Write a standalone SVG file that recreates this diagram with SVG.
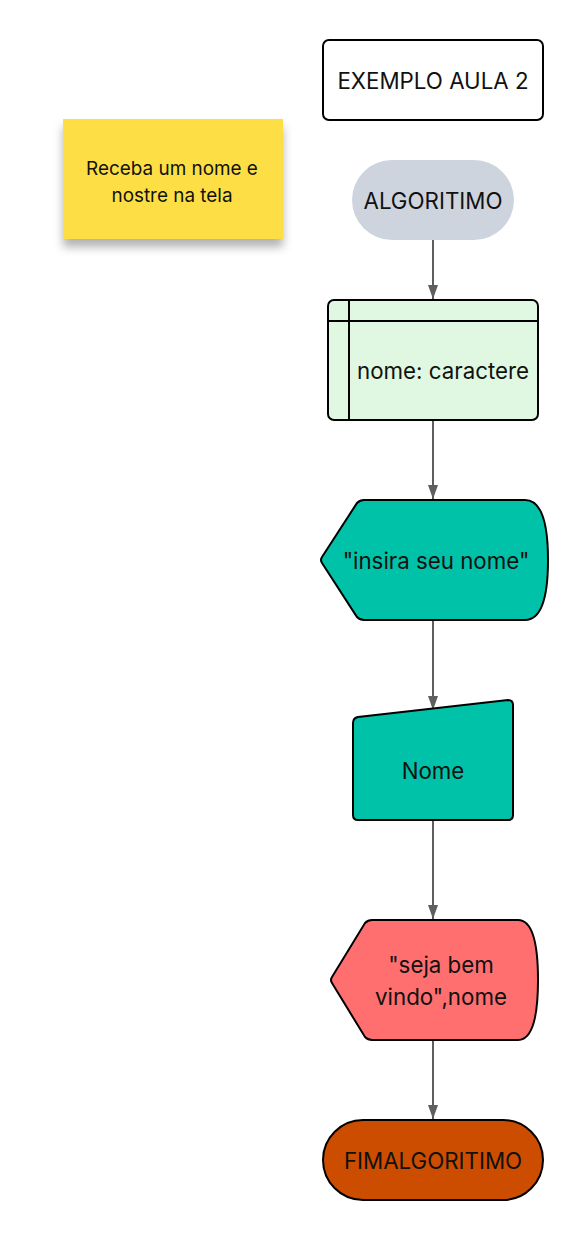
<svg xmlns="http://www.w3.org/2000/svg" width="588" height="1240" viewBox="0 0 588 1240">
<style>
text{font-family:Inter,"Noto Sans","Liberation Sans",sans-serif;fill:#111;text-anchor:middle;dominant-baseline:central}
.t{font-size:22.3px}
.s{font-size:18.9px}
.n{stroke:#000;stroke-width:2}
</style>
<defs>
<marker id="a2" markerWidth="14" markerHeight="10" refX="14" refY="5" orient="auto" markerUnits="userSpaceOnUse" viewBox="0 0 14 10">
<path d="M0,0 L14,5 L0,10 Z" fill="#5f5f5f"/>
</marker>
<filter id="sh" x="-20%" y="-20%" width="140%" height="160%">
<feDropShadow dx="0" dy="8" stdDeviation="5" flood-color="#000" flood-opacity="0.3"/>
</filter>
</defs>
<g id="connectors">
<line x1="433" y1="240" x2="433" y2="299" stroke="#5f5f5f" stroke-width="2" marker-end="url(#a2)"/>
<line x1="433" y1="420" x2="433" y2="499" stroke="#5f5f5f" stroke-width="2" marker-end="url(#a2)"/>
<line x1="433" y1="620" x2="433" y2="710" stroke="#5f5f5f" stroke-width="2" marker-end="url(#a2)"/>
<line x1="433" y1="820" x2="433" y2="919" stroke="#5f5f5f" stroke-width="2" marker-end="url(#a2)"/>
<line x1="433" y1="1040" x2="433" y2="1119" stroke="#5f5f5f" stroke-width="2" marker-end="url(#a2)"/>
</g>
<g id="note">
<rect x="63" y="119" width="220" height="120" fill="#FDDF44" filter="url(#sh)"/>
<text class="s" x="172" y="168">Receba um nome e</text>
<text class="s" x="172" y="195">nostre na tela</text>
</g>
<g id="title">
<rect class="n" x="323" y="40" width="220" height="80" rx="6" fill="#fff"/>
<text class="t" x="433" y="80">EXEMPLO AULA 2</text>
</g>
<g id="start">
<rect x="352" y="160" width="162" height="80" rx="40" fill="#CED4DE"/>
<text class="t" x="433" y="200">ALGORITIMO</text>
</g>
<g id="vars">
<rect class="n" x="328" y="300" width="210" height="120" rx="6" fill="#E0F8E2"/>
<line x1="349" y1="300" x2="349" y2="420" stroke="#000" stroke-width="2"/>
<line x1="328" y1="321" x2="538" y2="321" stroke="#000" stroke-width="2"/>
<text class="t" x="443" y="370">nome: caractere</text>
</g>
<g id="display1">
<path class="n" d="M364,500 L525,500 Q548,500 548,560 Q548,620 525,620 L364,620 Q360,620 357,617 L322,563 Q320,560 322,557 L357,503 Q360,500 364,500 Z" fill="#00C2A8"/>
<text class="t" x="436" y="560">"insira seu nome"</text>
</g>
<g id="input">
<path class="n" d="M358,717 L508,700 Q513,700 513,705 L513,815 Q513,820 508,820 L358,820 Q353,820 353,815 L353,723 Q353,718 358,717 Z" fill="#00C2A8"/>
<text class="t" x="433" y="770">Nome</text>
</g>
<g id="display2">
<path class="n" d="M372,920 L518,920 Q538,920 538,980 Q538,1040 518,1040 L372,1040 Q368,1040 365,1037 L332,983 Q330,980 332,977 L365,923 Q368,920 372,920 Z" fill="#FF6F6F"/>
<text class="t" x="441" y="964">"seja bem</text>
<text class="t" x="441" y="996">vindo",nome</text>
</g>
<g id="end">
<rect class="n" x="323" y="1120" width="220" height="80" rx="40" fill="#CC4C00"/>
<text class="t" x="433" y="1160">FIMALGORITIMO</text>
</g>
</svg>
